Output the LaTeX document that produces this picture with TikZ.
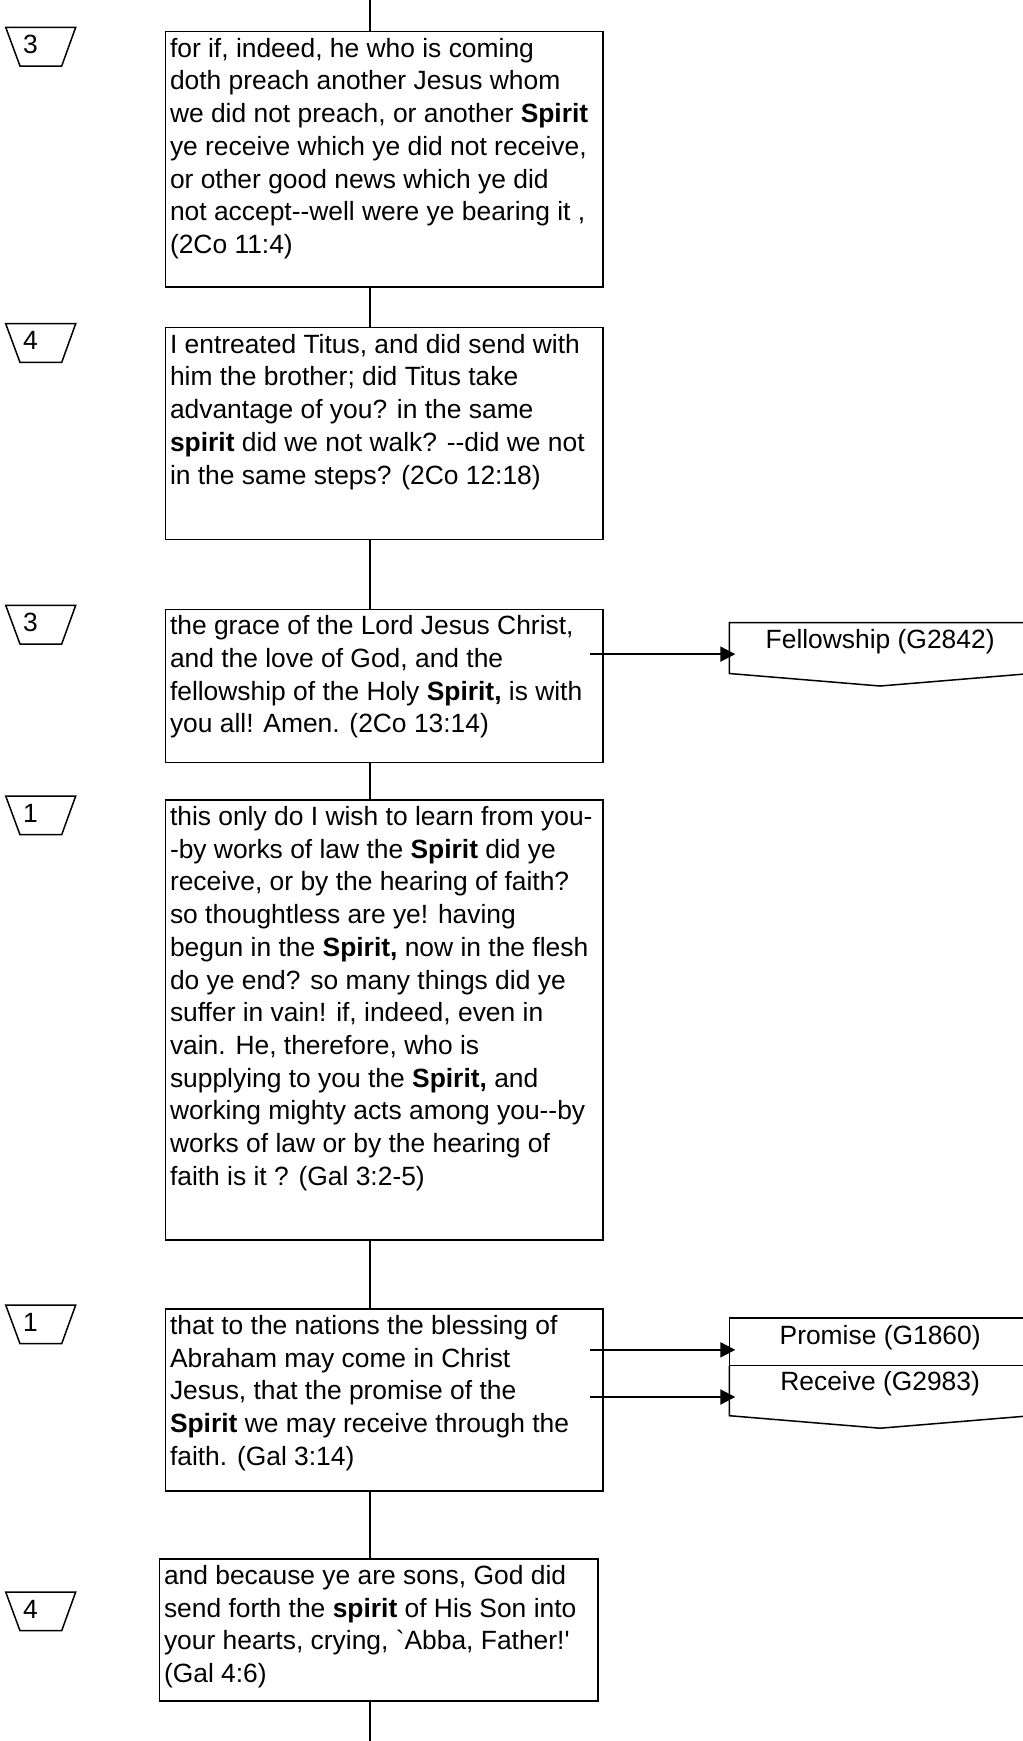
\documentclass[tikz,border=0pt]{standalone}
\usepackage{fontspec}
\newfontfamily\bodyfont{Liberation Sans}
\usetikzlibrary{arrows.meta,calc}
\begin{document}
\begin{tikzpicture}[x=1pt,y=-1pt,
  txt/.style={font=\bodyfont\fontsize{26.4pt}{32.7pt}\selectfont},
  box/.style={draw,line width=1.5pt,inner sep=0pt,outer sep=0pt,anchor=north west},
  cell/.style={inner sep=0pt,outer sep=0pt,anchor=north west,minimum width=301.7pt},
  body/.style={txt,anchor=north west,inner sep=0pt,outer sep=0pt,align=left},
  conn/.style={line width=1.5pt},
  arr/.style={line width=2pt,-{Triangle[length=15pt,width=15pt]}},
  tag/.style={draw,line width=1.5pt,line join=miter},
  num/.style={txt,anchor=base west,inner sep=0pt},
  lbl/.style={txt,anchor=base,inner sep=0pt},
]
\useasboundingbox (0,0) rectangle (1023,1741);
\clip (0,0) rectangle (1023,1741);
\fill[white] (0,0) rectangle (1023,1741);

% ---------- main boxes ----------
\node[box,minimum width=437.5pt,minimum height=255.3pt] (b1) at (165.5,31.7) {};
\node[box,minimum width=437.5pt,minimum height=211.6pt] (b2) at (165.5,327.7) {};
\node[box,minimum width=437.5pt,minimum height=153.4pt] (b3) at (165.5,609.3) {};
\node[box,minimum width=437.5pt,minimum height=440pt] (b4) at (165.5,800) {};
\node[box,minimum width=437.5pt,minimum height=182pt] (b5) at (165.5,1309) {};
\node[box,minimum width=438.5pt,minimum height=142pt] (b6) at (159.5,1559) {};

\node[body] (t1) at ([xshift=4.5pt]b1.north west) {\rule{0pt}{25.5pt}for if, indeed, he who is coming\\
doth preach another Jesus whom\\
we did not preach, or another \textbf{Spirit}\\
ye receive which ye did not receive,\\
or other good news which ye did\\
not accept-{}-well were ye bearing it ,\\
(2Co 11:4)};

\node[body] (t2) at ([xshift=4.5pt]b2.north west) {\rule{0pt}{25.5pt}I entreated Titus, and did send with\\
him the brother; did Titus take\\
advantage of you? in the same\\
\textbf{spirit} did we not walk? -{}-did we not\\
in the same steps? (2Co 12:18)};

\node[body] (t3) at ([xshift=4.5pt]b3.north west) {\rule{0pt}{25.5pt}the grace of the Lord Jesus Christ,\\
and the love of God, and the\\
fellowship of the Holy \textbf{Spirit,} is with\\
you all! Amen. (2Co 13:14)};

\node[body] (t4) at ([xshift=4.5pt]b4.north west) {\rule{0pt}{25.5pt}this only do I wish to learn from you-\\
-by works of law the \textbf{Spirit} did ye\\
receive, or by the hearing of faith?\\
so thoughtless are ye! having\\
begun in the \textbf{Spirit,} now in the flesh\\
do ye end? so many things did ye\\
suffer in vain! if, indeed, even in\\
vain. He, therefore, who is\\
supplying to you the \textbf{Spirit,} and\\
working mighty acts among you-{}-by\\
works of law or by the hearing of\\
faith is it ? (Gal 3:2-5)};

\node[body] (t5) at ([xshift=4.5pt]b5.north west) {\rule{0pt}{25.5pt}that to the nations the blessing of\\
Abraham may come in Christ\\
Jesus, that the promise of the\\
\textbf{Spirit} we may receive through the\\
faith. (Gal 3:14)};

\node[body] (t6) at ([xshift=4.5pt]b6.north west) {\rule{0pt}{25.5pt}and because ye are sons, God did\\
send forth the \textbf{spirit} of His Son into\\
your hearts, crying, {\char"60}Abba, Father!{\char"27}\\
(Gal 4:6)};

% ---------- vertical connectors ----------
\coordinate (top) at (370,0);
\coordinate (bot) at (370,1741);
\draw[conn] (top) -- (b1.north -| top);
\draw[conn] (b1.south -| top) -- (b2.north -| top);
\draw[conn] (b2.south -| top) -- (b3.north -| top);
\draw[conn] (b3.south -| top) -- (b4.north -| top);
\draw[conn] (b4.south -| top) -- (b5.north -| top);
\draw[conn] (b5.south -| top) -- (b6.north -| top);
\draw[conn] (b6.south -| top) -- (bot);

% ---------- number tags ----------
\foreach \T/\n/\nm in {27.3/3/n1, 323.7/4/n2, 605.3/3/n3, 796/1/n4, 1305/1/n5, 1592/4/n6}{
  \draw[tag] (5.7,\T) -- (75.7,\T) -- (61.7,\T+38.7) -- (20,\T+38.7) -- cycle;
  \node[num] (\nm) at (23,\T+26) {\n};
}

% ---------- Fellowship ----------
\node[cell,minimum height=50.8pt] (fel) at (729.3,622.7) {};
\draw[line width=1.5pt] (fel.north east) -- (fel.north west) -- (fel.south west)
  -- ($(fel.south)+(0,12.5)$) -- (fel.south east) -- cycle;
\node[lbl] (felt) at ([yshift=-25.6pt]fel.north) {Fellowship (G2842)};
\coordinate (fa) at ([yshift=-6pt]fel.west);
\draw[arr] ([xshift=-13pt]b3.east |- fa) -- ([xshift=6pt]fa);

% ---------- Promise / Receive ----------
\node[cell,minimum height=47.7pt,draw,line width=1.5pt] (pro) at (729.3,1318) {};
\node[cell,minimum height=50pt] (rec) at (pro.south west) {};
\draw[line width=1.5pt] (rec.north west) -- (rec.south west)
  -- ($(rec.south)+(0,12.5)$) -- (rec.south east) -- (rec.north east);
\node[lbl] (prot) at ([yshift=-26pt]pro.north) {Promise (G1860)};
\node[lbl] (rect) at ([yshift=-25pt]rec.north) {Receive (G2983)};
\coordinate (pa) at ([yshift=-8pt]pro.west);
\coordinate (ra) at ([yshift=-6.3pt]rec.west);
\draw[arr] ([xshift=-13pt]b5.east |- pa) -- ([xshift=6pt]pa);
\draw[arr] ([xshift=-13pt]b5.east |- ra) -- ([xshift=6pt]ra);
\end{tikzpicture}
\end{document}
